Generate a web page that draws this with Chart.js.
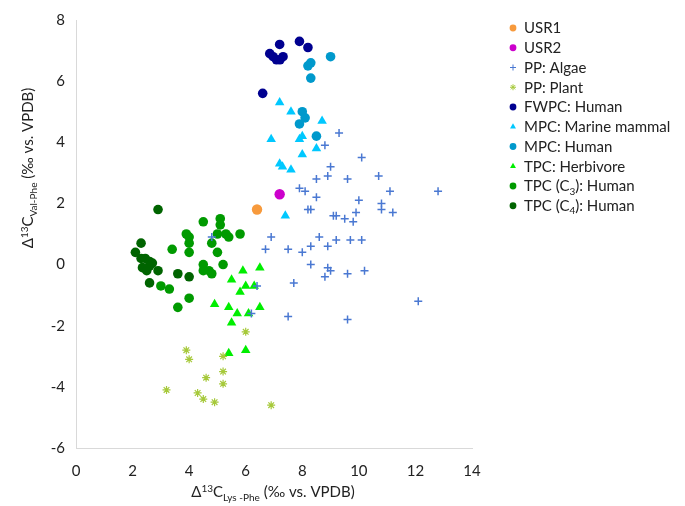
<!DOCTYPE html>
<html>
<head>
<meta charset="utf-8">
<script src="https://cdn.jsdelivr.net/npm/chart.js@4.4.1/dist/chart.umd.min.js"></script>
<style>
  html, body { margin: 0; padding: 0; background: #fff; }
</style>
</head>
<body>
<canvas id="chart" width="685" height="506"></canvas>
<script>
// values, [x, y] = [Δ13C Lys-Phe, Δ13C Val-Phe]
const usr1 = [[6.4, 1.8]];
const usr2 = [[7.2, 2.3]];
const ppAlgae = [
  [9.3, 4.3], [8.8, 3.9], [10.1, 3.5], [9.0, 3.2], [8.5, 2.8], [8.9, 2.9], [9.6, 2.8], [10.7, 2.9],
  [7.9, 2.5], [8.1, 2.4], [8.5, 2.2], [11.1, 2.4], [12.8, 2.4], [10.0, 2.1], [10.8, 2.0], [10.8, 1.8],
  [11.2, 1.7], [9.9, 1.7], [8.2, 1.8], [8.3, 1.8], [9.1, 1.6], [9.2, 1.6], [9.5, 1.5], [9.8, 1.4],
  [6.9, 0.9], [8.6, 0.9], [9.2, 0.8], [9.7, 0.8], [10.1, 0.8], [6.7, 0.5], [7.5, 0.5], [8.0, 0.4],
  [8.3, 0.6], [8.9, 0.6], [8.3, 0.0], [8.9, -0.1], [9.0, -0.2], [8.8, -0.4], [9.6, -0.3], [10.2, -0.2],
  [7.7, -0.6], [12.1, -1.2], [7.5, -1.7], [9.6, -1.8], [6.4, -0.7], [6.2, -1.6], [4.8, 0.9]
];
const ppPlant = [
  [6.0, -2.2], [3.9, -2.8], [4.0, -3.1], [5.2, -3.0], [5.2, -3.5], [4.6, -3.7],
  [5.2, -3.9], [3.2, -4.1], [4.3, -4.2], [4.5, -4.4], [4.9, -4.5], [6.9, -4.6]
];
const fwpcHuman = [
  [7.2, 7.2], [7.9, 7.3], [8.2, 7.1], [6.85, 6.9], [6.97, 6.8], [7.09, 6.7],
  [7.21, 6.7], [7.32, 6.8], [6.6, 5.6]
];
const mpcMarine = [
  [7.2, 5.3], [7.6, 5.0], [8.7, 4.7], [6.9, 4.1], [7.9, 4.1], [8.0, 4.2],
  [8.5, 3.8], [8.0, 3.6], [7.2, 3.3], [7.3, 3.2], [7.6, 3.1], [7.4, 1.6]
];
const mpcHuman = [
  [9.0, 6.8], [8.3, 6.6], [8.2, 6.5], [8.3, 6.1], [8.0, 5.0], [8.1, 4.8], [7.9, 4.6], [8.5, 4.2]
];
const tpcHerbivore = [
  [5.9, -0.2], [6.5, -0.1], [5.5, -0.5], [6.0, -0.7], [6.3, -0.7], [5.8, -0.9], [4.9, -1.3],
  [5.4, -1.4], [5.7, -1.6], [6.1, -1.6], [6.5, -1.4], [5.5, -1.9], [5.4, -2.9], [6.0, -2.8]
];
const tpcC3Human = [
  [4.5, 1.4], [5.1, 1.5], [5.1, 1.3], [3.9, 1.0], [4.0, 0.9], [5.0, 1.0], [5.3, 1.0], [5.4, 0.9],
  [5.8, 1.0], [4.0, 0.7], [4.8, 0.7], [3.4, 0.5], [4.0, 0.4], [5.0, 0.4], [4.5, 0.0], [5.2, 0.0],
  [4.5, -0.2], [4.7, -0.2], [4.8, -0.3], [3.0, -0.7], [3.3, -0.8], [4.0, -1.1], [3.6, -1.4]
];
const tpcC4Human = [
  [2.9, 1.8], [2.3, 0.7], [2.1, 0.4], [2.3, 0.2], [2.45, 0.2], [2.6, 0.1], [2.7, 0.05],
  [2.35, -0.1], [2.5, -0.2], [2.6, -0.05], [2.9, -0.2], [3.6, -0.3], [4.0, -0.4], [2.6, -0.6]
];

const xTickValues = [0, 2, 4, 6, 8, 10, 12, 14];
const yTickValues = [-6, -4, -2, 0, 2, 4, 6, 8];

const xTitle = "Δ^{13}C_{Lys -Phe} (‰ vs. VPDB)";
const yTitle = "Δ^{13}C_{Val-Phe} (‰ vs. VPDB)";

const FONT = "Lato, 'Open Sans', sans-serif";
const TEXT = "#222";

const toPts = (arr) => arr.map(([x, y]) => ({ x, y }));

function series(label, data, color, style, radius, borderWidth) {
  const filled = style === "circle" || style === "triangle";
  return {
    label,
    data: toPts(data),
    pointStyle: style,
    pointRadius: radius,
    pointHoverRadius: radius,
    backgroundColor: filled ? color : "transparent",
    borderColor: color,
    pointBorderWidth: filled ? 0 : borderWidth,
    showLine: false,
  };
}

const datasets = [
  series("USR1", usr1, "#f79a3c", "circle", 5.2),
  series("USR2", usr2, "#cc00cc", "circle", 5.2),
  series("PP: Algae", ppAlgae, "#4a78d2", "cross", 4, 1.5),
  series("PP: Plant", ppPlant, "#a6c93a", "star", 4, 1.2),
  series("FWPC: Human", fwpcHuman, "#000090", "circle", 4.8),
  series("MPC: Marine mammal", mpcMarine, "#00c8ff", "triangle", 5.5),
  series("MPC: Human", mpcHuman, "#0099cc", "circle", 4.8),
  series("TPC: Herbivore", tpcHerbivore, "#00ee00", "triangle", 5.5),
  series("TPC (C_{3}): Human", tpcC3Human, "#009a00", "circle", 4.8),
  series("TPC (C_{4}): Human", tpcC4Human, "#006400", "circle", 4.8),
];

// text with ^{sup} and _{sub} pieces
function parseRich(str) {
  const parts = [];
  const re = /(\^|_)\{([^}]*)\}/g;
  let last = 0, m;
  while ((m = re.exec(str))) {
    if (m.index > last) parts.push({ t: str.slice(last, m.index), k: "n" });
    parts.push({ t: m[2], k: m[1] === "^" ? "sup" : "sub" });
    last = re.lastIndex;
  }
  if (last < str.length) parts.push({ t: str.slice(last), k: "n" });
  return parts;
}

function drawRich(ctx, str, x, y, size, align) {
  const parts = parseRich(str);
  const small = Math.round(size * 0.66);
  const fontFor = (p) => (p.k === "n" ? size : small) + "px " + FONT;
  let total = 0;
  parts.forEach((p) => { ctx.font = fontFor(p); p.w = ctx.measureText(p.t).width; total += p.w; });
  let cx = align === "center" ? x - total / 2 : x;
  ctx.textBaseline = "alphabetic";
  ctx.textAlign = "left";
  const base = y + size * 0.35;
  parts.forEach((p) => {
    ctx.font = fontFor(p);
    let dy = 0;
    if (p.k === "sup") dy = -size * 0.38;
    if (p.k === "sub") dy = size * 0.22;
    ctx.fillText(p.t, cx, base + dy);
    cx += p.w;
  });
}

const decorations = {
  id: "decorations",
  afterDraw(chart) {
    const ctx = chart.ctx;
    ctx.save();
    ctx.fillStyle = TEXT;
    // axis titles
    drawRich(ctx, xTitle, 273, 492, 15, "center");
    ctx.save();
    ctx.translate(28, 168);
    ctx.rotate(-Math.PI / 2);
    drawRich(ctx, yTitle, 0, 0, 15, "center");
    ctx.restore();

    // legend
    chart.data.datasets.forEach((ds, i) => {
      const y = 28 + i * 19.75;
      ctx.fillStyle = ds.backgroundColor;
      ctx.strokeStyle = ds.borderColor;
      const filled = ds.pointBorderWidth === 0;
      Chart.helpers.drawPoint(ctx, {
        pointStyle: ds.pointStyle,
        radius: filled ? 3.4 : 3,
        borderWidth: filled ? 0 : 1.2,
      }, 513, y);
      ctx.fillStyle = TEXT;
      drawRich(ctx, ds.label, 524, y, 15, "left");
    });
    ctx.restore();
  },
};

new Chart(document.getElementById("chart"), {
  type: "scatter",
  data: { datasets },
  options: {
    responsive: false,
    animation: false,
    events: [],
    layout: { padding: { top: 17, right: 213, left: 0, bottom: 0 } },
    scales: {
      x: {
        type: "linear",
        min: 0,
        max: 14,
        afterBuildTicks: (s) => { s.ticks = xTickValues.map((v) => ({ value: v })); },
        afterFit: (s) => { s.height = 58; },
        grid: { display: false, drawTicks: false },
        border: { display: true, color: "#d9d9d9", width: 1 },
        ticks: { color: TEXT, font: { family: FONT, size: 15 }, padding: 14, maxRotation: 0 },
      },
      y: {
        type: "linear",
        min: -6,
        max: 8,
        afterBuildTicks: (s) => { s.ticks = yTickValues.map((v) => ({ value: v })); },
        afterFit: (s) => { s.width = 76; },
        grid: { display: false, drawTicks: false },
        border: { display: true, color: "#d9d9d9", width: 1 },
        ticks: { color: TEXT, font: { family: FONT, size: 15 }, padding: 11 },
      },
    },
    plugins: {
      legend: { display: false },
      tooltip: { enabled: false },
    },
  },
  plugins: [decorations],
});
</script>
</body>
</html>
